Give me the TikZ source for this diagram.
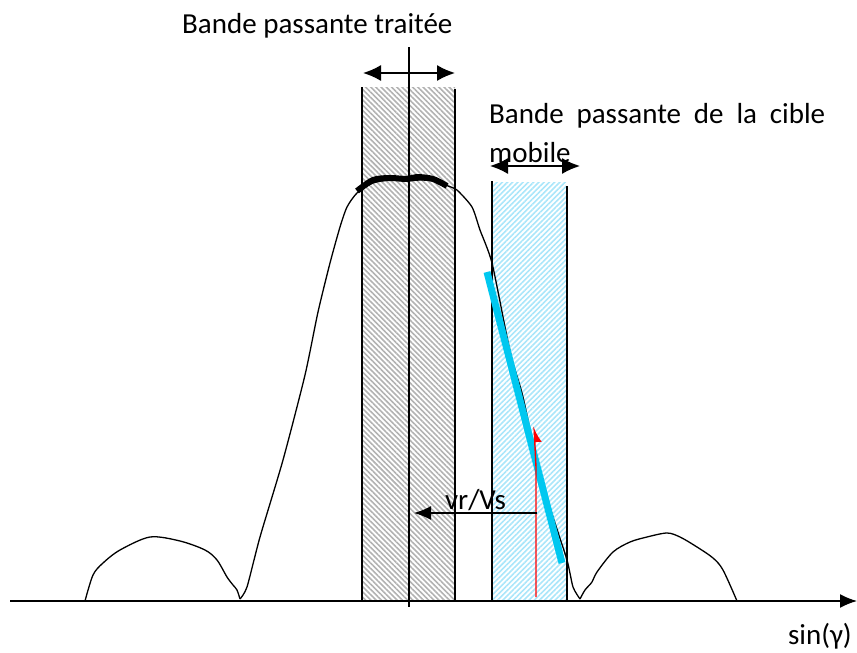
\documentclass[tikz,border=0pt]{standalone}
\usepackage{fontspec}
\setmainfont{Carlito}
\usetikzlibrary{arrows.meta,patterns.meta,positioning}

\definecolor{hatchgray}{RGB}{178,178,178}
\definecolor{hatchblue}{RGB}{170,230,250}
\definecolor{slope}{RGB}{0,200,240}

\begin{document}
\begin{tikzpicture}[x=1pt, y=-1pt,
    curve/.style={draw, line width=1.3pt, line join=round},
    edge/.style={draw, line width=1.6pt},
    line/.style={draw, -{Latex[length=17pt,width=14pt]}, line width=1.5pt},
    both/.style={draw, {Latex[length=18pt,width=16pt]}-{Latex[length=18pt,width=16pt]}, line width=1.5pt},
    label/.style={font=\fontsize{29}{39}\selectfont, inner sep=0pt}
]
\useasboundingbox (0,0) rectangle (857,653);

% hatched bands
\fill [pattern={Lines[angle=-45, distance=3.7pt, line width=1.6pt]}, pattern color=hatchgray] (363,87) rectangle (455,601);
\fill [pattern={Lines[angle=45, distance=3.7pt, line width=1.6pt]}, pattern color=hatchblue] (493,182) rectangle (566,601);

\path [edge] (362,87) -- (362,601);
\path [edge] (455,89) -- (455,601);
\path [edge] (492,181) -- (492,601);
\path [edge] (567,186) -- (567,601);
\path [edge] (409,47) -- (409,607);

% the three lobes
\path [curve] plot[smooth, tension=0.5] coordinates {(85,601) (93,575) (103,563) (120,550) (150,537) (180,541) (205,550) (217,560) (227,577) (233,585) (237,590) (240,599)};
\path [curve] plot[smooth, tension=0.4] coordinates {(240,599) (247,587) (260,537) (283,460) (305,375) (318,312) (330,263) (340,227) (347,207) (357,193) (373,183) (390,180) (407,181) (420,180) (435,181) (448,186) (457,190) (472,207) (480,230) (492,263) (507,337) (513,363) (523,397) (538,467) (553,517) (567,560) (573,587) (580,599)};
\path [curve] plot[smooth, tension=0.5] coordinates {(580,599) (585,590) (592,582) (597,572) (613,552) (630,542) (647,537) (667,533) (680,537) (697,547) (713,558) (723,570) (737,601)};

\draw [line width=6pt] plot[smooth, tension=0.5] coordinates {(357,191) (373,180) (390,178) (407,179) (417,177) (433,179) (447,186)};

% tangent and Doppler shift
\coordinate (st) at (487,272);
\coordinate (sb) at (562,563);
\draw [slope, line width=7pt] (st) -- (sb);

\coordinate (rb) at (536,597);
\coordinate (rm) at (536,467);
\coordinate (rt) at (534,426);
\draw [red, line width=1.4pt, -{Latex[length=14pt,width=14pt,harpoon,swap]}] (rb) -- (rm) -- (rt);

\coordinate (vs) at (537,513);
\coordinate (ve) at (414,513);
\path [line] (vs) -- node[label, above=2pt] {vr/Vs} (ve);

% axis
\coordinate (ax0) at (10,601);
\coordinate (ax1) at (857,601);
\path [line] (ax0) -- (ax1);
\node [label, anchor=base east] (axis) at (852,644) {sin(γ)};

% band widths
\coordinate (gl) at (363,73);
\coordinate (gr) at (455,73);
\path [both] (gl) -- (gr);
\coordinate (bl) at (490,166);
\coordinate (br) at (580,166);
\path [both] (bl) -- (br);

\node [label, anchor=base west] (treated) at (182,33) {Bande passante traitée};
\node [label, anchor=base west, text width=336pt, align=justify] (target) at (489,123) {Bande passante de la cible mobile};
\end{tikzpicture}
\end{document}
